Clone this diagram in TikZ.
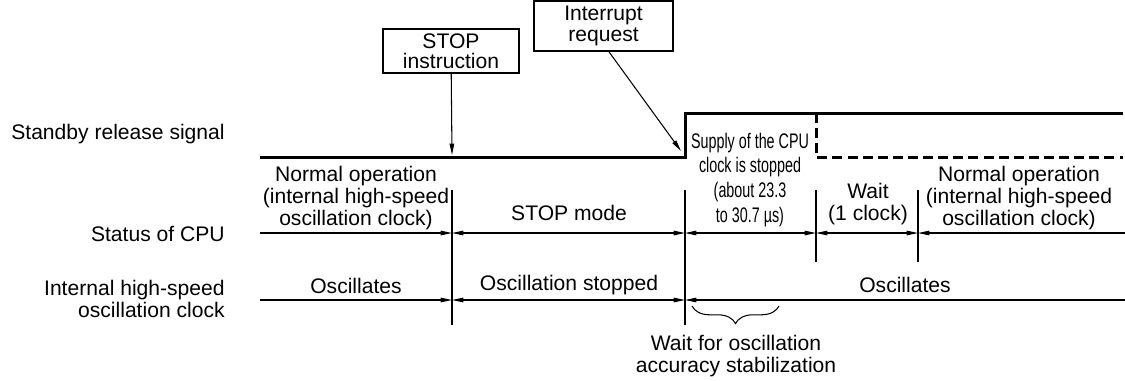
\documentclass[tikz,border=0pt]{standalone}
\usepackage{fontspec}
\setmainfont{Liberation Sans}
\newfontfamily\narrowfont[FakeStretch=0.68]{Liberation Sans}
\usetikzlibrary{arrows.meta,decorations.pathreplacing}

\tikzset{
  >={Triangle[length=6.5pt,width=2.6pt]},
  sig/.style={line width=1.7pt},
  sigdash/.style={line width=1.7pt, dash pattern=on 5.7pt off 2.9pt},
  tick/.style={line width=0.6pt},
  evbox/.style={draw, line width=0.6pt, align=center, inner sep=1pt,
    font=\fontsize{12}{11.5}\selectfont},
  txt/.style={align=center, inner sep=0pt, font=\fontsize{12}{12.3}\selectfont},
  narrowtxt/.style={align=center, inner sep=0pt, font=\narrowfont\fontsize{12}{14.2}\selectfont},
  rowlabel/.style={anchor=east, align=right, inner sep=0pt, font=\fontsize{12}{12.3}\selectfont}
}

\begin{document}
\begin{tikzpicture}[x=0.02cm, y=-0.02cm]
\useasboundingbox (0,0) rectangle (1125,380);

% Row labels
\node[rowlabel] (lsig) at (225,134) {Standby release signal};
\node[rowlabel] (lcpu) at (225,234) {Status of CPU};
\node[rowlabel] (losc) at (225,299) {Internal high-speed\\oscillation clock};

% Event boxes
\node[evbox, minimum width=2.72cm, minimum height=0.88cm] (stopbox) at (451,51) {STOP\\instruction};
\node[evbox, minimum width=2.78cm, minimum height=1.0cm] (intbox) at (603.5,26) {Interrupt\\request};

% Standby release signal
\draw[sig] (260,157) -- (685,157) -- (685,113) -- (1123,113);
\draw[sigdash] (816,113) -- (816,157) -- (1123,157);

% Event arrows
\coordinate (stopin) at (452,155);
\coordinate (intin) at (681,151);
\draw[tick, ->] (stopbox) -- (stopin);
\draw[tick, ->] ([xshift=3pt]intbox.south) -- (intin);

% Boundaries
\draw[tick] (452,190) -- (452,325);
\draw[tick] (685,190) -- (685,325);
\draw[tick] (816,190) -- (816,262);
\draw[tick] (918,190) -- (918,262);

% Status of CPU
\draw[tick, ->]  (260,233) -- (452,233);
\draw[tick, <->] (452,233) -- (685,233);
\draw[tick, <->] (685,233) -- (816,233);
\draw[tick, <->] (816,233) -- (918,233);
\draw[tick, <-]  (918,233) -- (1125,233);

\node[txt] (cpunorm1) at (356,198) {Normal operation\\(internal high-speed\\oscillation clock)};
\node[txt] (cpustop) at (569,213) {STOP mode};
\node[narrowtxt] (cpusup) at (750,180) {Supply of the CPU\\clock is stopped\\(about 23.3\\to 30.7 µs)};
\node[txt] (cpuwait) at (868,204) {Wait\\(1 clock)};
\node[txt] (cpunorm2) at (1019,198) {Normal operation\\(internal high-speed\\oscillation clock)};

% Internal high-speed oscillation clock
\draw[tick, ->]  (260,300) -- (452,300);
\draw[tick, <->] (452,300) -- (685,300);
\draw[tick, <-]  (685,300) -- (1125,300);

\node[txt] (osc1) at (356,286) {Oscillates};
\node[txt] (osc2) at (569,285) {Oscillation stopped};
\node[txt] (osc3) at (905,285) {Oscillates};

% Stabilization wait
\coordinate (brl) at (692,306);
\coordinate (brr) at (779,306);
\draw[tick, decorate, decoration={brace, mirror, amplitude=10pt}] (brl) -- (brr);
\node[txt] (stab) at (736,356) {Wait for oscillation\\accuracy stabilization};

\end{tikzpicture}
\end{document}
